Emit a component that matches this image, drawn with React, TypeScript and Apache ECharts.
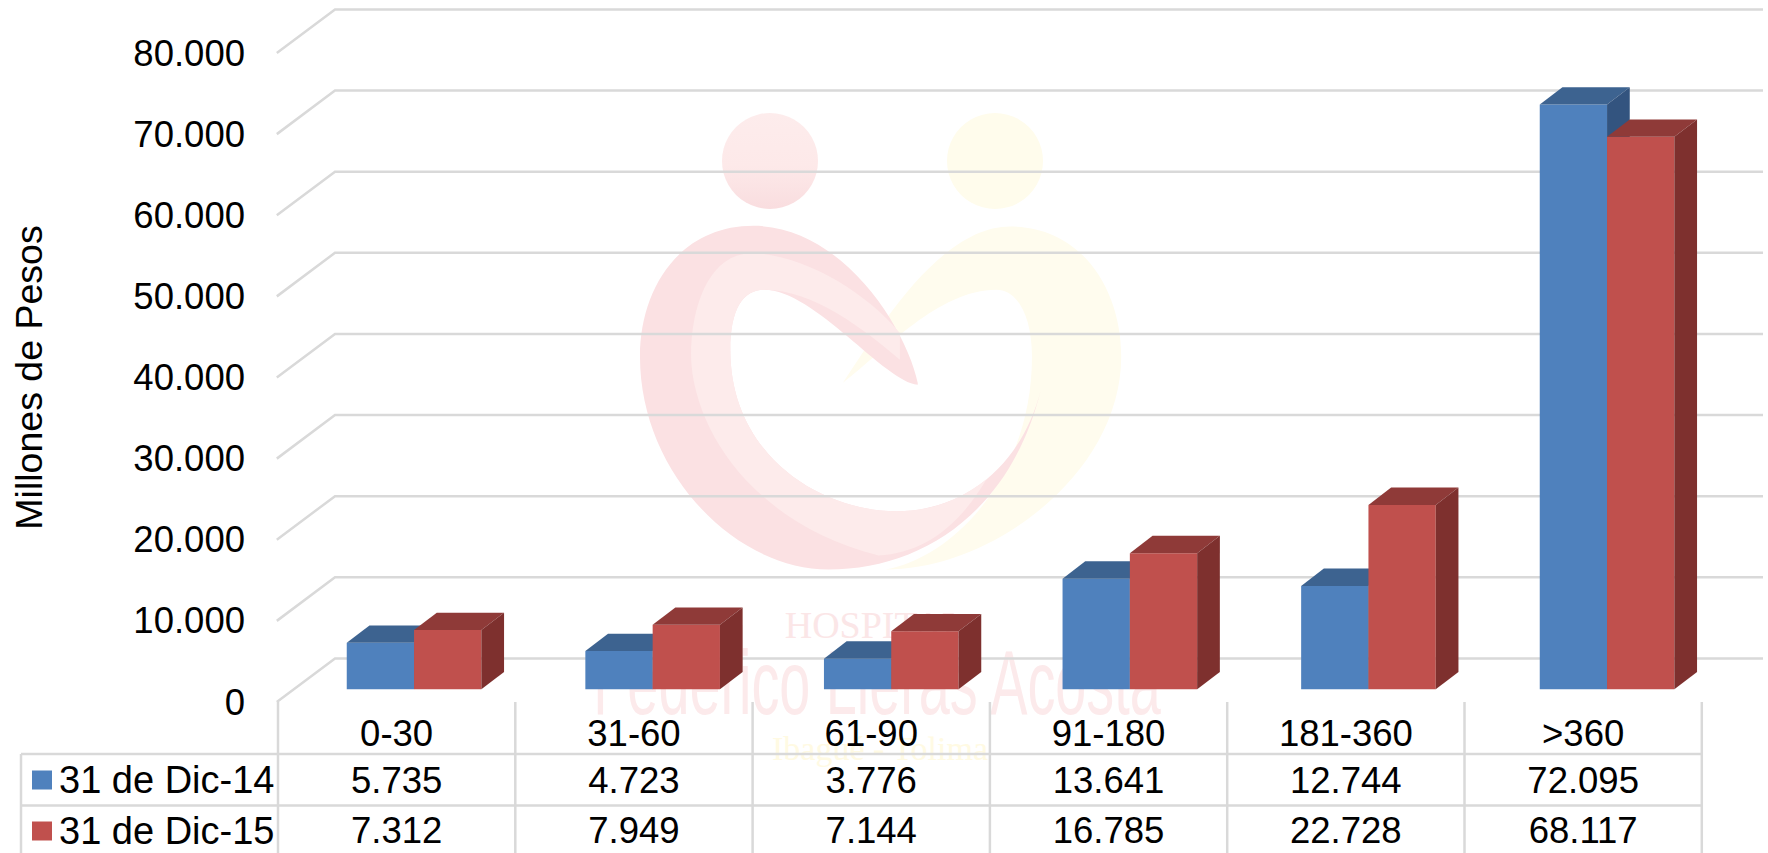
import React, { useEffect, useRef } from "react";
import * as echarts from "echarts";

const categories = ["0-30", "31-60", "61-90", "91-180", "181-360", ">360"];
const seriesNames = ["31 de Dic-14", "31 de Dic-15"];
const dic14 = [5735, 4723, 3776, 13641, 12744, 72095];
const dic15 = [7312, 7949, 7144, 16785, 22728, 68117];
const yTicks = [0, 10000, 20000, 30000, 40000, 50000, 60000, 70000, 80000];

const FONT = '"Liberation Sans", Arial, sans-serif';
const FS = 36.5;
const GRID = "#D9D9D9";
const LINE_W = 2.5;

const fmt = (v: number) => String(v).replace(/\B(?=(\d{3})+(?!\d))/g, ".");

const pinkBase =
  "M890 880 C860 720 680 408 430 408 C220 408 112 600 112 800 C112 1150 380 1440 640 1440 C900 1440 1150 1270 1235 900 C1180 1130 1020 1265 830 1265 C620 1265 365 1100 365 780 C365 660 400 600 460 600 C600 600 800 880 890 885 Z";
const pinkLight =
  "M840 730 C740 600 560 490 420 490 C310 495 255 640 255 800 C260 1010 420 1300 780 1398 C900 1390 1000 1320 1083 1168 C1012 1231 925 1265 830 1265 C620 1265 365 1100 365 780 C365 660 400 600 460 600 C600 600 740 720 840 810 Z";
const yellowBase =
  "M680 880 C780 720 950 410 1150 410 C1350 410 1460 600 1460 800 C1460 1150 1100 1440 800 1440 C1000 1400 1210 1150 1210 800 C1210 680 1170 600 1110 600 C950 600 800 780 680 880 Z";

echarts.graphic.registerShape("wmPinkBase", echarts.graphic.extendPath(pinkBase, {}));
echarts.graphic.registerShape("wmPinkLight", echarts.graphic.extendPath(pinkLight, {}));
echarts.graphic.registerShape("wmYellow", echarts.graphic.extendPath(yellowBase, {}));

const wm = { x: 600, y: 90, scaleX: 1 / 2.8, scaleY: 1 / 3 };

function barSeries(name: string, values: number[], side: number, colors: string[], rowY: number) {
  return {
    type: "custom",
    name,
    z: 3,
    silent: true,
    clip: false,
    itemStyle: { color: colors[0] },
    data: values.map((v, i) => [i, v]),
    renderItem: (_p: any, api: any) => {
      const i = api.value(0);
      const v = api.value(1);
      const top = api.coord([i, v]);
      const base = api.coord([i, 0]);
      const w = 67.3;
      const dx = 17.4 + 1.3 * i;
      const dy = -12.7;
      const ox = 22.7;
      const oy = 17.3;
      const x0 = top[0] + dx + (side === 0 ? -w : 0);
      const x1 = x0 + w;
      const yT = top[1] + dy;
      const yB = base[1] + dy;
      return {
        type: "group",
        children: [
          { type: "rect", shape: { x: x0, y: yT, width: w, height: yB - yT }, style: { fill: colors[0] } },
          {
            type: "polygon",
            shape: { points: [[x0, yT], [x0 + ox, yT - oy], [x1 + ox, yT - oy], [x1, yT]] },
            style: { fill: colors[1] },
          },
          {
            type: "polygon",
            shape: { points: [[x1, yT], [x1 + ox, yT - oy], [x1 + ox, yB - oy], [x1, yB]] },
            style: { fill: colors[2] },
          },
          {
            type: "text",
            style: {
              x: base[0],
              y: rowY,
              text: fmt(v),
              fill: "#000",
              font: `${FS}px ${FONT}`,
              textAlign: "center",
              textVerticalAlign: "middle",
            },
          },
        ],
      };
    },
  };
}

const wallSeries = {
  type: "custom",
  name: "walls",
  z: 1,
  silent: true,
  clip: false,
  data: yTicks.map((t) => [0, t]),
  renderItem: (_p: any, api: any) => {
    const p = api.coord([0, api.value(1)]);
    const by = p[1] - 43.6;
    return {
      type: "polyline",
      shape: { points: [[276.8, p[1]], [335, by], [1763, by]] },
      style: { stroke: GRID, lineWidth: LINE_W, fill: "none" },
    };
  },
};

const catW = 237.3;
const tableLeft = 21;
const tableX0 = 278;
const tableRight = tableX0 + catW * 6;
const tableLines: any[] = [];
[754, 805.5].forEach((y) =>
  tableLines.push({
    type: "line",
    shape: { x1: tableLeft, y1: y, x2: tableRight, y2: y },
    style: { stroke: GRID, lineWidth: LINE_W },
    z: 1,
  })
);
tableLines.push({
  type: "line",
  shape: { x1: tableLeft, y1: 754, x2: tableLeft, y2: 853 },
  style: { stroke: GRID, lineWidth: LINE_W },
  z: 1,
});
for (let k = 0; k <= 6; k++) {
  tableLines.push({
    type: "line",
    shape: { x1: tableX0 + catW * k, y1: 702, x2: tableX0 + catW * k, y2: 853 },
    style: { stroke: GRID, lineWidth: LINE_W },
    z: 1,
  });
}

const watermark: any[] = [
  { type: "wmYellow", ...wm, style: { fill: "#FFFCEE" }, z: 0 },
  { type: "circle", shape: { cx: 995, cy: 161, r: 48 }, style: { fill: "#FFFCEC" }, z: 0 },
  { type: "wmPinkBase", ...wm, style: { fill: "#FBE1E3" }, z: 0 },
  { type: "wmPinkLight", ...wm, style: { fill: "#FDEBEB" }, z: 0 },
  {
    type: "circle",
    shape: { cx: 770, cy: 161, r: 48 },
    style: {
      fill: new echarts.graphic.LinearGradient(0, 0, 0, 1, [
        { offset: 0, color: "#FDECEC" },
        { offset: 0.55, color: "#FDE9E9" },
        { offset: 1, color: "#F9DDDF" },
      ]),
    },
    z: 0,
  },
  {
    type: "text",
    x: 875,
    y: 625,
    style: {
      text: "HOSPITAL",
      fill: "#FBE6E7",
      font: '38px "Liberation Serif", serif',
      textAlign: "center",
      textVerticalAlign: "middle",
    },
    z: 0,
  },
  {
    type: "text",
    x: 877,
    y: 683,
    scaleX: 0.62,
    style: {
      text: "Federico Lleras Acosta",
      fill: "#FCEAEB",
      font: '90px "Liberation Sans", sans-serif',
      textAlign: "center",
      textVerticalAlign: "middle",
    },
    z: 0,
  },
  {
    type: "text",
    x: 880,
    y: 748,
    style: {
      text: "Ibagué - Tolima",
      fill: "#FFFAE3",
      font: '34px "Liberation Serif", serif',
      textAlign: "center",
      textVerticalAlign: "middle",
    },
    z: 0,
  },
];

export default function App() {
  const ref = useRef<HTMLDivElement>(null);
  useEffect(() => {
    const chart = echarts.init(ref.current!, null, { renderer: "svg" });
    chart.setOption({
      animation: false,
      backgroundColor: "#fff",
      grid: { left: tableX0, width: catW * 6, top: 53, height: 649 },
      xAxis: {
        type: "category",
        data: categories,
        axisLine: { show: false },
        axisTick: { show: false },
        axisLabel: { color: "#000", fontFamily: FONT, fontSize: FS, margin: 13, interval: 0 },
      },
      yAxis: {
        type: "value",
        min: 0,
        max: 80000,
        interval: 10000,
        name: "Millones de Pesos",
        nameLocation: "middle",
        nameGap: 230,
        nameTextStyle: { color: "#000", fontFamily: FONT, fontSize: 37.5 },
        axisLine: { show: false },
        axisTick: { show: false },
        splitLine: { show: false },
        axisLabel: {
          color: "#000",
          fontFamily: FONT,
          fontSize: FS,
          margin: 33,
          padding: [3, 0, 0, 0],
          formatter: (v: number) => fmt(v),
        },
      },
      legend: {
        data: seriesNames.map((name) => ({ name, icon: "rect" })),
        orient: "vertical",
        left: 32,
        top: 761,
        padding: 0,
        itemWidth: 20,
        itemHeight: 19,
        itemGap: 13,
        selectedMode: false,
        textStyle: { color: "#000", fontFamily: FONT, fontSize: 38, lineHeight: 38, padding: [0, 0, 0, 2] },
      },
      graphic: { elements: [...watermark, ...tableLines] },
      series: [
        wallSeries,
        barSeries(seriesNames[0], dic14, 0, ["#4F81BD", "#3D6390", "#33547F"], 780),
        barSeries(seriesNames[1], dic15, 1, ["#C0504D", "#8F3A38", "#7E302E"], 830),
      ],
    });
    return () => chart.dispose();
  }, []);
  return <div ref={ref} style={{ position: "absolute", left: 0, top: 0, width: 1768, height: 853 }} />;
}
